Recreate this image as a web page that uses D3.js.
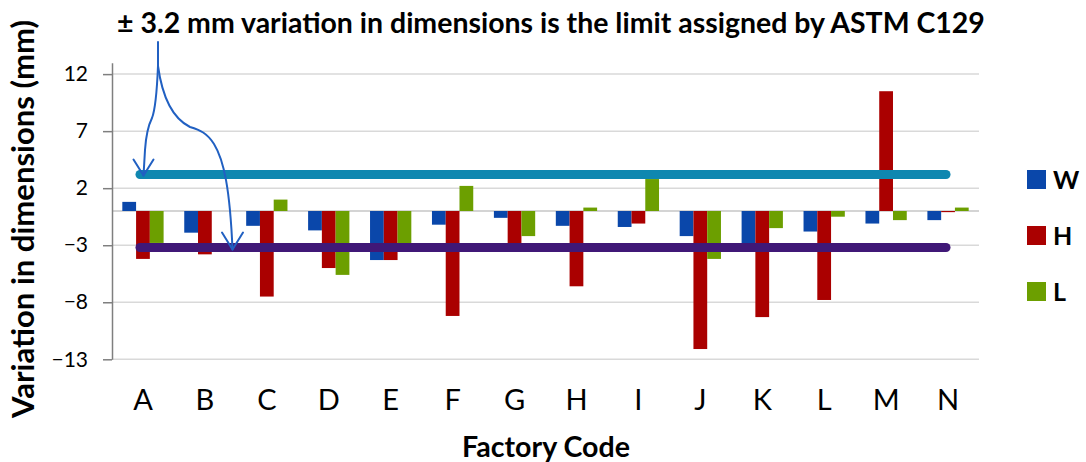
<!DOCTYPE html>
<html>
<head>
<meta charset="utf-8">
<script src="https://cdn.jsdelivr.net/npm/d3@7"></script>
<style>
  html, body { margin: 0; padding: 0; background: #ffffff; }
  svg { display: block; font-family: Lato, "Open Sans", sans-serif; }
</style>
</head>
<body>
<svg id="chart" width="1086" height="462"></svg>
<script>
// Factory codes on the category axis
const categories = ["A", "B", "C", "D", "E", "F", "G", "H", "I", "J", "K", "L", "M", "N"];

// Variation in each dimension (mm) per factory
const seriesNames = ["W", "H", "L"];
const widthVar  = [0.8, -1.9, -1.3, -1.7, -4.3, -1.2, -0.6, -1.3, -1.4, -2.2, -3.0, -1.8, -1.1, -0.8];
const heightVar = [-4.2, -3.8, -7.5, -5.0, -4.3, -9.2, -2.9, -6.6, -1.1, -12.1, -9.3, -7.8, 10.5, -0.1];
const lengthVar = [-2.8, 0, 1.0, -5.6, -2.9, 2.2, -2.2, 0.3, 2.8, -4.2, -1.5, -0.5, -0.8, 0.3];

// Value axis
const yTicks = [12, 7, 2, -3, -8, -13];
const yDomain = [-13, 13];

// ASTM C129 tolerance limits (mm)
const limits = [3.2, -3.2];

const titleText = "\u00B1 3.2 mm variation in dimensions is the limit assigned by ASTM C129";
const yTitle = "Variation in dimensions  (mm)";
const xTitle = "Factory Code";

const colors = { W: "#0a47aa", H: "#aa0000", L: "#6c9f00" };
const limitColors = ["#0f87b0", "#401877"];

const svg = d3.select("#chart");

const plot = { left: 112, right: 979, top: 62.7, bottom: 359.3 };

const x = d3.scaleBand()
  .domain(categories)
  .range([plot.left, plot.right])
  .paddingInner(1 / 3)
  .paddingOuter(1 / 6);

const xSub = d3.scaleBand()
  .domain(seriesNames)
  .range([0, x.bandwidth()]);

const y = d3.scaleLinear().domain(yDomain).range([plot.bottom, plot.top]);

const seriesData = { W: widthVar, H: heightVar, L: lengthVar };

// Gridlines
svg.append("g")
  .selectAll("line")
  .data(yTicks)
  .join("line")
  .attr("x1", plot.left)
  .attr("x2", plot.right)
  .attr("y1", d => y(d))
  .attr("y2", d => y(d))
  .attr("stroke", "#d9d9d9")
  .attr("stroke-width", 1.5);

// Category axis line at zero
svg.append("line")
  .attr("x1", plot.left).attr("x2", plot.right)
  .attr("y1", y(0)).attr("y2", y(0))
  .attr("stroke", "#c6c6c6").attr("stroke-width", 1.5);

// Value axis
const yAxis = d3.axisLeft(y).tickValues(yTicks).tickSize(9).tickPadding(15).tickSizeOuter(0);
const yAxisG = svg.append("g")
  .attr("transform", `translate(${plot.left},0)`)
  .call(yAxis);
yAxisG.select(".domain").attr("stroke", "#7f7f7f").attr("stroke-width", 1.5);
yAxisG.selectAll(".tick line").attr("stroke", "#7f7f7f").attr("stroke-width", 1.5);
yAxisG.selectAll(".tick text")
  .attr("fill", "#000")
  .style("font-size", "21px")
  .style("font-family", "Lato, 'Open Sans', sans-serif");

// Bars
const groups = svg.append("g")
  .selectAll("g")
  .data(categories)
  .join("g")
  .attr("transform", d => `translate(${x(d)},0)`);

groups.selectAll("rect")
  .data((c, i) => seriesNames.map(s => ({ s, v: seriesData[s][i] })))
  .join("rect")
  .attr("x", d => xSub(d.s))
  .attr("width", xSub.bandwidth())
  .attr("y", d => y(Math.max(0, d.v)))
  .attr("height", d => Math.abs(y(d.v) - y(0)))
  .attr("fill", d => colors[d.s]);

// Tolerance limit lines
svg.append("g")
  .selectAll("line")
  .data(limits)
  .join("line")
  .attr("x1", x(categories[0]) + x.bandwidth() / 2 - 3)
  .attr("x2", x(categories[categories.length - 1]) + x.bandwidth() / 2 - 2)
  .attr("y1", d => y(d))
  .attr("y2", d => y(d))
  .attr("stroke", (d, i) => limitColors[i])
  .attr("stroke-width", 9)
  .attr("stroke-linecap", "round");

// Category labels
svg.append("g")
  .selectAll("text")
  .data(categories)
  .join("text")
  .attr("x", d => x(d) + x.bandwidth() / 2)
  .attr("y", 410)
  .attr("text-anchor", "middle")
  .style("font-size", "29px")
  .text(d => d);

// Fit a text element to a target length
function fit(sel, target) {
  const size = parseFloat(sel.style("font-size"));
  const len = sel.node().getComputedTextLength();
  sel.style("font-size", (size * target / len).toFixed(2) + "px");
}

// Title
const title = svg.append("text")
  .attr("x", 117).attr("y", 33)
  .style("font-size", "25px").style("font-weight", "bold")
  .text(titleText);
fit(title, 868);

// Axis titles
const yt = svg.append("text")
  .attr("transform", `translate(34,${(20 + 418) / 2}) rotate(-90)`)
  .attr("text-anchor", "middle")
  .style("font-size", "28px").style("font-weight", "bold")
  .text(yTitle);
fit(yt, 398);

const xt = svg.append("text")
  .attr("x", 546).attr("y", 457)
  .attr("text-anchor", "middle")
  .style("font-size", "28px").style("font-weight", "bold")
  .text(xTitle);
fit(xt, 168);

// Legend
const legend = svg.append("g")
  .selectAll("g")
  .data(seriesNames)
  .join("g")
  .attr("transform", (d, i) => `translate(1027,${170 + i * 56})`);
legend.append("rect")
  .attr("width", 19).attr("height", 19)
  .attr("fill", d => colors[d]);
legend.append("text")
  .attr("x", 26).attr("y", 19)
  .style("font-size", "25px").style("font-weight", "bold")
  .text(d => d);

// Annotation arrows from the title to both limits
const arrowColor = "#2160c2";
const ann = svg.append("g")
  .attr("fill", "none")
  .attr("stroke", arrowColor)
  .attr("stroke-width", 2)
  .attr("stroke-linecap", "round")
  .attr("stroke-linejoin", "round");

const upTip = [143.5, y(limits[0]) + 1];
const lowTip = [232.5, y(limits[1]) + 2];

const p1 = d3.path();
p1.moveTo(158, 42);
p1.lineTo(158, 66);
p1.bezierCurveTo(157, 90, 156, 108, 152, 118);
p1.bezierCurveTo(148, 126, 146, 135, 145, 150);
p1.lineTo(upTip[0], upTip[1]);
ann.append("path").attr("d", p1.toString());

const p2 = d3.path();
p2.moveTo(158, 66);
p2.bezierCurveTo(162, 95, 172, 118, 190, 127);
p2.bezierCurveTo(200, 130, 207, 133, 214, 144);
p2.bezierCurveTo(224, 160, 230, 190, lowTip[0], lowTip[1]);
ann.append("path").attr("d", p2.toString());

// Arrowheads
[[upTip, 10, 16], [lowTip, 10.5, 17]].forEach(([tip, dx, dy]) => {
  ann.append("path")
    .attr("d", `M${tip[0] - dx},${tip[1] - dy} L${tip[0]},${tip[1]} L${tip[0] + dx},${tip[1] - dy}`);
});
</script>
</body>
</html>
